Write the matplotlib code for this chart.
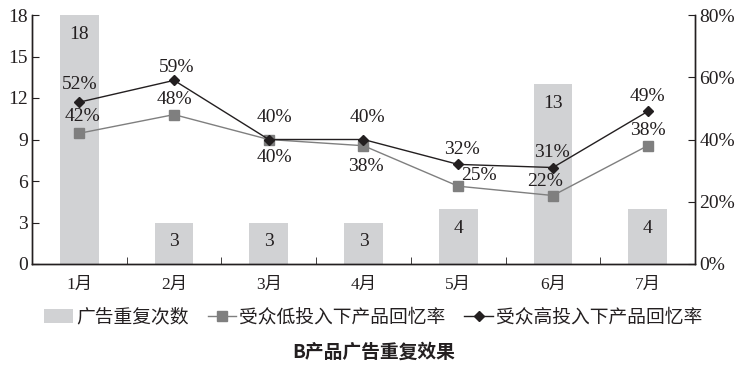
import matplotlib.pyplot as plt
import numpy as np

plt.rcParams['font.family'] = ['Liberation Serif', 'Noto Sans CJK SC']

months = ['1月', '2月', '3月', '4月', '5月', '6月', '7月']
repeat_counts = [18, 3, 3, 3, 4, 13, 4]
low_recall = [42, 48, 40, 38, 25, 22, 38]
high_recall = [52, 59, 40, 40, 32, 31, 49]

# label offsets in points (dx, dy)
low_offsets = [(2, 12), (0, 11), (4, -13), (2, -15), (15, 8), (-6, 10), (0, 11)]
high_offsets = [(0, 13), (2, 9), (4, 16), (3, 16), (3, 11), (-1, 11), (0, 11)]

ink = '#231f20'
num_size = 14
x = np.arange(len(months))

fig = plt.figure(figsize=(7.47, 3.69), dpi=100)
ax = fig.add_axes([32 / 747, 1 - 264 / 369, (695 - 32) / 747, (264 - 15) / 369])
ax2 = ax.twinx()

bars = ax.bar(x, repeat_counts, width=0.41, color='#d1d2d4', zorder=1)
for xi, v in zip(x, repeat_counts):
    ax.annotate(str(v), (xi, v), xytext=(0, -14), textcoords='offset points',
                ha='center', va='center', fontsize=num_size, color=ink)

ax.set_xlim(-0.5, len(months) - 0.5)
ax.set_ylim(0, 18)
ax.set_yticks(np.arange(0, 19, 3))
ax.set_xticks(x)
ax.set_xticklabels(months, fontsize=12.5, color=ink)
ax.set_xticks(np.arange(0.5, len(months) - 0.5, 1), minor=True)
ax.tick_params(axis='x', which='major', length=0, pad=9)
ax.tick_params(axis='x', which='minor', direction='in', length=5, color=ink)
ax.tick_params(axis='y', direction='in', length=5, labelsize=num_size, colors=ink, pad=3)

ax2.set_ylim(0, 80)
ax2.set_yticks(np.arange(0, 81, 20))
ax2.set_yticklabels([f'{v}%' for v in range(0, 81, 20)])
ax2.tick_params(axis='y', direction='in', length=5, labelsize=num_size, colors=ink, pad=3)

for a in (ax, ax2):
    a.spines['top'].set_visible(False)
    for s in ('left', 'right', 'bottom'):
        a.spines[s].set_color(ink)
        a.spines[s].set_linewidth(1.0)

l1, = ax2.plot(x, low_recall, color='#7f7f7f', lw=1.0, marker='s', markersize=7,
               markerfacecolor='#7f7f7f', markeredgecolor='#7f7f7f', zorder=3)
l2, = ax2.plot(x, high_recall, color=ink, lw=1.0, marker='D', markersize=5,
               markerfacecolor=ink, markeredgecolor=ink, zorder=4)

for xi, v, off in zip(x, low_recall, low_offsets):
    ax2.annotate(f'{v}%', (xi, v), xytext=off, textcoords='offset points',
                 ha='center', va='center', fontsize=num_size, color=ink)
for xi, v, off in zip(x, high_recall, high_offsets):
    ax2.annotate(f'{v}%', (xi, v), xytext=off, textcoords='offset points',
                 ha='center', va='center', fontsize=num_size, color=ink)

fig.legend([bars, l1, l2], ['广告重复次数', '受众低投入下产品回忆率', '受众高投入下产品回忆率'],
           loc='center', bbox_to_anchor=(0.5, 1 - 317 / 369), ncol=3,
           frameon=False, prop={'family': 'Noto Sans CJK SC', 'size': 13.5},
           handlelength=1.5, handletextpad=0.2, columnspacing=1.0, labelcolor=ink)

fig.text(0.5, 1 - 352 / 369, 'B产品广告重复效果', ha='center', va='center',
         fontfamily='Noto Sans CJK SC', fontsize=13.5, fontweight='bold', color=ink)

fig.savefig('out.png', dpi=100)
